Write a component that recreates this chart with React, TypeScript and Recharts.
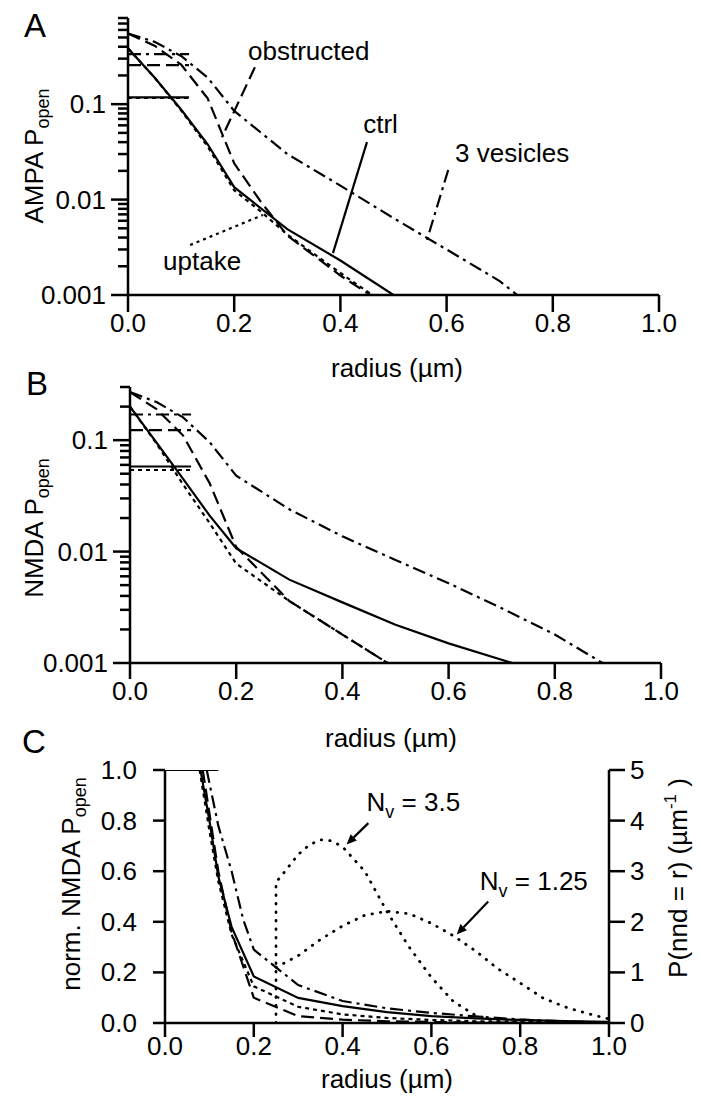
import React from 'react';
import { LineChart, Line, XAxis, YAxis, ReferenceLine, ReferenceDot } from 'recharts';

const FONT = '"Liberation Sans", Arial, Helvetica, sans-serif';

// radius ticks shared by all panels
const radiusTicks = [0, 0.2, 0.4, 0.6, 0.8, 1.0];

// log axis ticks (majors get a label)
const ampaTicks = [
  0.001, 0.002, 0.003, 0.004, 0.005, 0.006, 0.007, 0.008, 0.009,
  0.01, 0.02, 0.03, 0.04, 0.05, 0.06, 0.07, 0.08, 0.09,
  0.1, 0.2, 0.3, 0.4, 0.5, 0.6, 0.7, 0.8,
];
const nmdaTicks = [
  0.001, 0.002, 0.003, 0.004, 0.005, 0.006, 0.007, 0.008, 0.009,
  0.01, 0.02, 0.03, 0.04, 0.05, 0.06, 0.07, 0.08, 0.09,
  0.1, 0.2, 0.3,
];
const normTicks = [0, 0.2, 0.4, 0.6, 0.8, 1.0];
const nndTicks = [0, 1, 2, 3, 4, 5];

// panel A: AMPA Popen vs radius  [radius, Popen]
const ampaCtrl = [[0, 0.385], [0.05, 0.19], [0.1, 0.088], [0.15, 0.038], [0.2, 0.0135], [0.3, 0.0049], [0.4, 0.0023], [0.5, 0.001]];
const ampaUptake = [[0, 0.385], [0.05, 0.19], [0.1, 0.086], [0.15, 0.036], [0.2, 0.0125], [0.25, 0.0075], [0.3, 0.0043], [0.4, 0.0017], [0.46, 0.001]];
const ampaObstructed = [[0, 0.55], [0.05, 0.41], [0.1, 0.26], [0.15, 0.115], [0.2, 0.024], [0.25, 0.0095], [0.3, 0.0042], [0.4, 0.0016], [0.456, 0.001]];
const ampaVesicles = [[0, 0.55], [0.05, 0.45], [0.1, 0.32], [0.15, 0.19], [0.2, 0.085], [0.3, 0.03], [0.4, 0.014], [0.5, 0.0064], [0.6, 0.003], [0.7, 0.0014], [0.733, 0.001]];
// mean over the synaptic area (drawn 0 .. 0.115)
const ampaMean = { ctrl: 0.118, uptake: 0.116, obstructed: 0.256, vesicles: 0.334 };

// panel B: NMDA Popen vs radius
const nmdaCtrl = [[0, 0.2], [0.05, 0.095], [0.1, 0.045], [0.15, 0.021], [0.2, 0.0107], [0.3, 0.0056], [0.4, 0.0035], [0.5, 0.0022], [0.6, 0.0015], [0.72, 0.001]];
const nmdaUptake = [[0, 0.2], [0.05, 0.093], [0.1, 0.04], [0.15, 0.018], [0.2, 0.0078], [0.3, 0.0036], [0.4, 0.0018], [0.485, 0.001]];
const nmdaObstructed = [[0, 0.27], [0.05, 0.19], [0.1, 0.11], [0.15, 0.041], [0.2, 0.011], [0.3, 0.0036], [0.4, 0.0018], [0.485, 0.001]];
const nmdaVesicles = [[0, 0.27], [0.05, 0.22], [0.1, 0.16], [0.15, 0.096], [0.2, 0.048], [0.3, 0.024], [0.4, 0.0137], [0.5, 0.0084], [0.6, 0.0052], [0.7, 0.0031], [0.8, 0.0018], [0.89, 0.001]];
const nmdaMean = { ctrl: 0.058, uptake: 0.054, obstructed: 0.123, vesicles: 0.17 };
const meanSpan = [0, 0.115];

// panel C: normalised NMDA Popen, plus nearest-neighbour distance densities
const normCtrl = [[0.08, 1.0], [0.1, 0.8], [0.12, 0.58], [0.15, 0.38], [0.2, 0.184], [0.3, 0.099], [0.4, 0.067], [0.5, 0.043], [0.6, 0.027], [0.7, 0.018], [0.8, 0.012], [0.9, 0.008], [1.0, 0.005]];
const normUptake = [[0.078, 1.0], [0.1, 0.76], [0.12, 0.56], [0.15, 0.35], [0.2, 0.145], [0.3, 0.064], [0.4, 0.034], [0.5, 0.02], [0.6, 0.012], [0.7, 0.007], [0.8, 0.004], [0.9, 0.002], [1.0, 0.001]];
const normObstructed = [[0.085, 1.0], [0.1, 0.83], [0.12, 0.6], [0.15, 0.36], [0.2, 0.1], [0.3, 0.027], [0.4, 0.013], [0.5, 0.007], [0.6, 0.004], [0.7, 0.002], [0.8, 0.001], [1.0, 0]];
const normVesicles = [[0.094, 1.0], [0.12, 0.78], [0.15, 0.6], [0.176, 0.41], [0.2, 0.29], [0.3, 0.15], [0.4, 0.087], [0.5, 0.058], [0.6, 0.04], [0.7, 0.026], [0.8, 0.014], [0.9, 0.006], [1.0, 0.002]];
const normMean = [[0, 1.0], [0.12, 1.0]];
const nnd35 = [[0.25, 0], [0.25, 2.78], [0.275, 3.05], [0.3, 3.33], [0.325, 3.52], [0.35, 3.62], [0.375, 3.6], [0.4, 3.48], [0.45, 3.0], [0.5, 2.2], [0.55, 1.5], [0.6, 0.9], [0.65, 0.42], [0.7, 0.15], [0.75, 0.04], [0.8, 0.01], [0.9, 0], [1.0, 0]];
const nnd125 = [[0.25, 1.1], [0.3, 1.33], [0.35, 1.65], [0.4, 1.92], [0.45, 2.13], [0.5, 2.21], [0.55, 2.16], [0.6, 1.97], [0.65, 1.72], [0.7, 1.42], [0.75, 1.07], [0.8, 0.79], [0.85, 0.5], [0.9, 0.32], [0.95, 0.19], [1.0, 0.08]];

const pts = (rows: number[][]) => rows.map(([x, y]) => ({ x, y }));
const level = (v: number) => meanSpan.map((x) => ({ x, y: v }));

const DASH = {
  ctrl: undefined as string | undefined,
  obstructed: '13 6',
  uptake: '4 4',
  vesicles: '13 5 3 5',
  nnd: '0.5 8',
};

const series = (data: any[], dash: string | undefined, key: string, yAxisId?: string, dotted = false) => (
  <Line
    key={key}
    data={data}
    dataKey="y"
    type="linear"
    stroke="#000"
    strokeWidth={dotted ? 2.8 : 2.2}
    strokeLinecap={dotted ? 'round' : 'butt'}
    strokeDasharray={dash}
    dot={false}
    activeDot={false}
    isAnimationActive={false}
    yAxisId={yAxisId}
  />
);

const isDecade = (v: number) => Math.abs(Math.log10(v) - Math.round(Math.log10(v))) < 1e-9;

const LogTick = (props: any) => {
  const { x, y, payload } = props;
  const major = isDecade(payload.value);
  return (
    <g>
      <line x1={x} x2={x - (major ? 17 : 10)} y1={y} y2={y} stroke="#000" strokeWidth={2.5} />
      {major && (
        <text x={x - 22} y={y} dy={9} textAnchor="end" fontSize={26} fontFamily={FONT} fill="#000">
          {String(payload.value)}
        </text>
      )}
    </g>
  );
};

const makeXTick = (len: number, gap: number) => (props: any) => {
  const { x, y, payload } = props;
  return (
    <g>
      <line x1={x} x2={x} y1={y} y2={y + len} stroke="#000" strokeWidth={2.5} />
      <text x={x} y={y + gap} textAnchor="middle" fontSize={26} fontFamily={FONT} fill="#000">
        {payload.value.toFixed(1)}
      </text>
    </g>
  );
};

const LeftLinTick = (props: any) => {
  const { x, y, payload } = props;
  return (
    <g>
      <line x1={x} x2={x - 12} y1={y} y2={y} stroke="#000" strokeWidth={2.5} />
      <text x={x - 28} y={y} dy={9} textAnchor="end" fontSize={26} fontFamily={FONT} fill="#000">
        {payload.value.toFixed(1)}
      </text>
    </g>
  );
};

const RightLinTick = (props: any) => {
  const { x, y, payload } = props;
  return (
    <g>
      <line x1={x} x2={x + 16} y1={y} y2={y} stroke="#000" strokeWidth={2.5} />
      <text x={x + 21} y={y} dy={9} textAnchor="start" fontSize={26} fontFamily={FONT} fill="#000">
        {String(payload.value)}
      </text>
    </g>
  );
};

const note = (content: React.ReactNode) => (p: any) => (
  <text x={p.cx} y={p.cy} fontSize={26} fontFamily={FONT} fill="#000">
    {content}
  </text>
);

const arrow = (p: any) => {
  const { x1, y1, x2, y2 } = p;
  const a = Math.atan2(y2 - y1, x2 - x1);
  const L = 10;
  const W = 4.5;
  const bx = x2 - L * Math.cos(a);
  const by = y2 - L * Math.sin(a);
  const nx = -Math.sin(a) * W;
  const ny = Math.cos(a) * W;
  return (
    <g>
      <line x1={x1} y1={y1} x2={bx} y2={by} stroke="#000" strokeWidth={2.2} />
      <polygon points={`${x2},${y2} ${bx + nx},${by + ny} ${bx - nx},${by - ny}`} fill="#000" />
    </g>
  );
};

const axisLine = { stroke: '#000', strokeWidth: 2.5 };

const sub = (t: string) => (
  <tspan fontSize={18} dy={6}>{t}</tspan>
);

const PanelA = () => (
  <LineChart width={701} height={345} margin={{ top: 18, right: 42, bottom: 0, left: 0 }}>
    <XAxis type="number" dataKey="x" domain={[0, 1]} ticks={radiusTicks} interval={0} allowDataOverflow
      axisLine={axisLine} tickLine={false} tickSize={0} tickMargin={0} height={50} tick={makeXTick(17, 37)} />
    <YAxis type="number" scale="log" domain={[0.001, 0.8]} ticks={ampaTicks} interval={0} allowDataOverflow
      axisLine={axisLine} tickLine={false} tickSize={0} tickMargin={0} width={128} tick={<LogTick />} />
    {series(level(ampaMean.ctrl), DASH.ctrl, 'mc')}
    {series(level(ampaMean.uptake), DASH.uptake, 'mu')}
    {series(level(ampaMean.obstructed), DASH.obstructed, 'mo')}
    {series(level(ampaMean.vesicles), DASH.vesicles, 'mv')}
    {series(pts(ampaCtrl), DASH.ctrl, 'c')}
    {series(pts(ampaUptake), DASH.uptake, 'u')}
    {series(pts(ampaObstructed), DASH.obstructed, 'o')}
    {series(pts(ampaVesicles), DASH.vesicles, 'v')}
    <ReferenceLine segment={[{ x: 0.239, y: 0.244 }, { x: 0.177, y: 0.045 }]} stroke="#000" strokeWidth={2.2} strokeDasharray={DASH.obstructed} />
    <ReferenceLine segment={[{ x: 0.45, y: 0.04 }, { x: 0.386, y: 0.00275 }]} stroke="#000" strokeWidth={2.2} />
    <ReferenceLine segment={[{ x: 0.603, y: 0.0204 }, { x: 0.563, y: 0.00377 }]} stroke="#000" strokeWidth={2.2} strokeDasharray={DASH.vesicles} />
    <ReferenceLine segment={[{ x: 0.117, y: 0.00334 }, { x: 0.254, y: 0.0069 }]} stroke="#000" strokeWidth={2.2} strokeDasharray="3 4" />
    <ReferenceDot x={0.226} y={0.289} r={0} shape={note('obstructed')} />
    <ReferenceDot x={0.443} y={0.0497} r={0} shape={note('ctrl')} />
    <ReferenceDot x={0.616} y={0.0247} r={0} shape={note('3 vesicles')} />
    <ReferenceDot x={0.066} y={0.00183} r={0} shape={note('uptake')} />
  </LineChart>
);

const PanelB = () => (
  <LineChart width={701} height={345} margin={{ top: 17, right: 40, bottom: 0, left: 0 }}>
    <XAxis type="number" dataKey="x" domain={[0, 1]} ticks={radiusTicks} interval={0} allowDataOverflow
      axisLine={axisLine} tickLine={false} tickSize={0} tickMargin={0} height={52} tick={makeXTick(16, 37)} />
    <YAxis type="number" scale="log" domain={[0.001, 0.3]} ticks={nmdaTicks} interval={0} allowDataOverflow
      axisLine={axisLine} tickLine={false} tickSize={0} tickMargin={0} width={130} tick={<LogTick />} />
    {series(level(nmdaMean.ctrl), DASH.ctrl, 'mc')}
    {series(level(nmdaMean.uptake), DASH.uptake, 'mu')}
    {series(level(nmdaMean.obstructed), DASH.obstructed, 'mo')}
    {series(level(nmdaMean.vesicles), DASH.vesicles, 'mv')}
    {series(pts(nmdaCtrl), DASH.ctrl, 'c')}
    {series(pts(nmdaUptake), DASH.uptake, 'u')}
    {series(pts(nmdaObstructed), DASH.obstructed, 'o')}
    {series(pts(nmdaVesicles), DASH.vesicles, 'v')}
  </LineChart>
);

const PanelC = () => (
  <LineChart width={701} height={357} margin={{ top: 30, right: 0, bottom: 0, left: 0 }}>
    <XAxis type="number" dataKey="x" domain={[0, 1]} ticks={radiusTicks} interval={0} allowDataOverflow
      axisLine={axisLine} tickLine={false} tickSize={0} tickMargin={0} height={74} tick={makeXTick(14, 32)} />
    <YAxis yAxisId="left" type="number" domain={[0, 1]} ticks={normTicks} interval={0} allowDataOverflow
      axisLine={axisLine} tickLine={false} tickSize={0} tickMargin={0} width={165} tick={<LeftLinTick />} />
    <YAxis yAxisId="right" orientation="right" type="number" domain={[0, 5]} ticks={nndTicks} interval={0} allowDataOverflow
      axisLine={axisLine} tickLine={false} tickSize={0} tickMargin={0} width={92} tick={<RightLinTick />} />
    {series(pts(normMean), DASH.ctrl, 'm', 'left')}
    {series(pts(normCtrl), DASH.ctrl, 'c', 'left')}
    {series(pts(normUptake), DASH.uptake, 'u', 'left')}
    {series(pts(normObstructed), DASH.obstructed, 'o', 'left')}
    {series(pts(normVesicles), DASH.vesicles, 'v', 'left')}
    {series(pts(nnd35), DASH.nnd, 'n35', 'right', true)}
    {series(pts(nnd125), DASH.nnd, 'n125', 'right', true)}
    <ReferenceLine yAxisId="right" segment={[{ x: 0.458, y: 3.95 }, { x: 0.409, y: 3.53 }]} shape={arrow} />
    <ReferenceLine yAxisId="right" segment={[{ x: 0.728, y: 2.4 }, { x: 0.657, y: 1.75 }]} shape={arrow} />
    <ReferenceDot yAxisId="right" x={0.454} y={4.18} r={0}
      shape={note(<>N<tspan fontSize={18} dy={7}>v</tspan><tspan dy={-7}> = 3.5</tspan></>)} />
    <ReferenceDot yAxisId="right" x={0.709} y={2.63} r={0}
      shape={note(<>N<tspan fontSize={18} dy={7}>v</tspan><tspan dy={-7}> = 1.25</tspan></>)} />
  </LineChart>
);

const T = { fontFamily: FONT, fill: '#000' };

export default function App() {
  return (
    <div style={{ position: 'relative', width: 701, height: 1097, background: '#fff' }}>
      <style>{'body{margin:0;background:#fff}'}</style>
      <div style={{ position: 'absolute', left: 0, top: 0 }}><PanelA /></div>
      <div style={{ position: 'absolute', left: 0, top: 370 }}><PanelB /></div>
      <div style={{ position: 'absolute', left: 0, top: 740 }}><PanelC /></div>
      <svg width={701} height={1097} style={{ position: 'absolute', left: 0, top: 0, pointerEvents: 'none' }}>
        <text x={24} y={37} fontSize={33} {...T}>A</text>
        <text x={26} y={395} fontSize={33} {...T}>B</text>
        <text x={22} y={753} fontSize={33} {...T}>C</text>

        <text transform="translate(43,156) rotate(-90)" textAnchor="middle" fontSize={26} {...T}>
          AMPA P{sub('open')}
        </text>
        <text transform="translate(43,528) rotate(-90)" textAnchor="middle" fontSize={26} {...T}>
          NMDA P{sub('open')}
        </text>
        <text transform="translate(80,884) rotate(-90)" textAnchor="middle" fontSize={26} {...T}>
          norm. NMDA P{sub('open')}
        </text>
        <text transform="translate(687,878) rotate(-90)" textAnchor="middle" fontSize={26} {...T}>
          P(nnd = r) (µm<tspan fontSize={17} dy={-11}>-1</tspan><tspan dy={11}> )</tspan>
        </text>

        <text x={397} y={377} textAnchor="middle" fontSize={26} {...T}>radius (µm)</text>
        <text x={391} y={747} textAnchor="middle" fontSize={26} {...T}>radius (µm)</text>
        <text x={387} y={1088} textAnchor="middle" fontSize={26} {...T}>radius (µm)</text>
      </svg>
    </div>
  );
}
